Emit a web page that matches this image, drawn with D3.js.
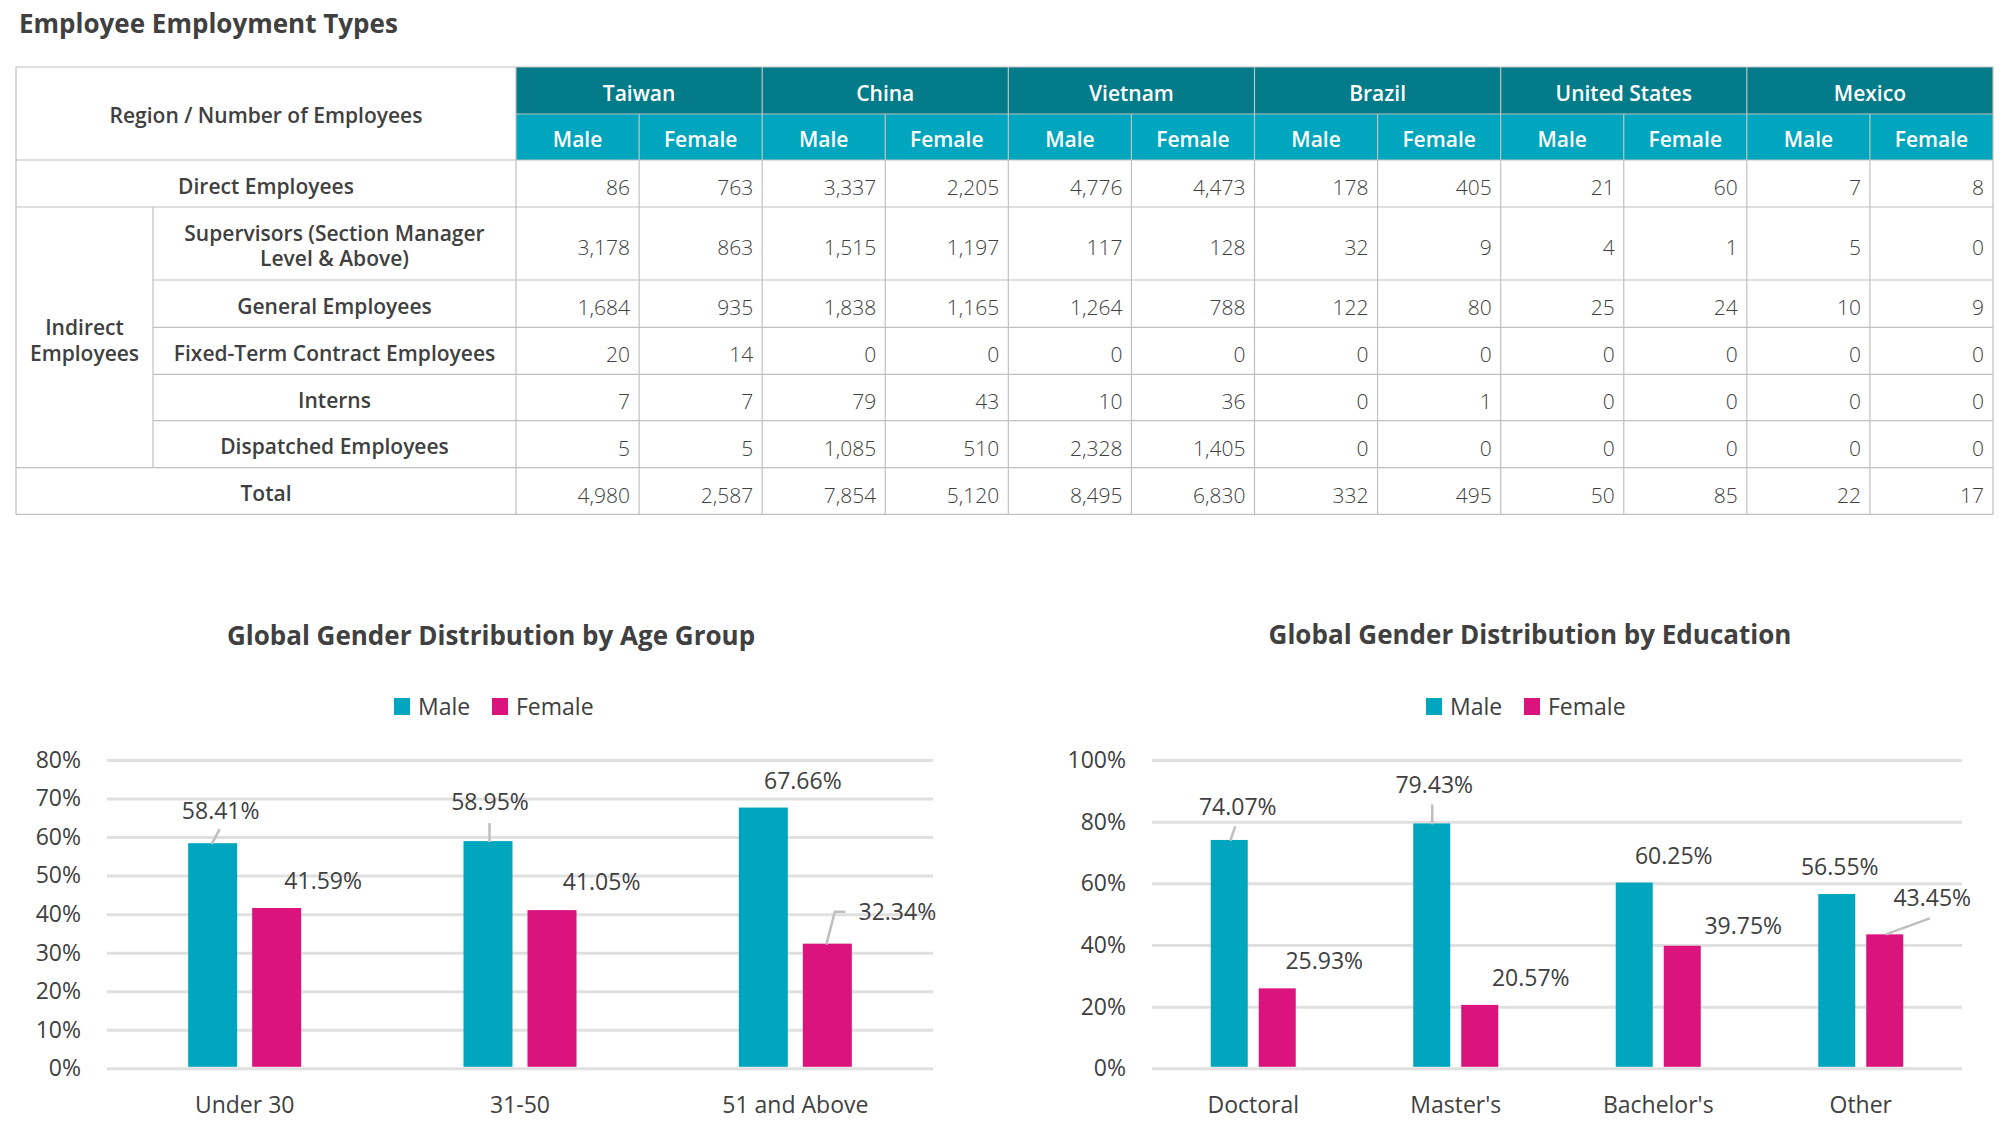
<!DOCTYPE html>
<html>
<head>
<meta charset="utf-8">
<script src="https://cdn.jsdelivr.net/npm/d3@7"></script>
<style>
  body { margin: 0; background: #fff; }
  text { font-family: "Open Sans", "Noto Sans", sans-serif; fill: #404040; }
</style>
</head>
<body>
<script>
// ---- table data ----
const regions = ['Taiwan', 'China', 'Vietnam', 'Brazil', 'United States', 'Mexico'];
const genders = ['Male', 'Female'];
const rowLabels = ['Direct Employees', 'Supervisors (Section Manager|Level & Above)', 'General Employees',
  'Fixed-Term Contract Employees', 'Interns', 'Dispatched Employees', 'Total'];
const directEmployees = [86, 763, 3337, 2205, 4776, 4473, 178, 405, 21, 60, 7, 8];
const supervisors = [3178, 863, 1515, 1197, 117, 128, 32, 9, 4, 1, 5, 0];
const generalEmployees = [1684, 935, 1838, 1165, 1264, 788, 122, 80, 25, 24, 10, 9];
const fixedTermEmployees = [20, 14, 0, 0, 0, 0, 0, 0, 0, 0, 0, 0];
const interns = [7, 7, 79, 43, 10, 36, 0, 1, 0, 0, 0, 0];
const dispatchedEmployees = [5, 5, 1085, 510, 2328, 1405, 0, 0, 0, 0, 0, 0];
const totalEmployees = [4980, 2587, 7854, 5120, 8495, 6830, 332, 495, 50, 85, 22, 17];
const tableRows = [directEmployees, supervisors, generalEmployees, fixedTermEmployees,
  interns, dispatchedEmployees, totalEmployees];

// ---- chart data ----
const ageGroups = ['Under 30', '31-50', '51 and Above'];
const ageMale = [58.41, 58.95, 67.66];
const ageFemale = [41.59, 41.05, 32.34];
const ageTicks = [0, 10, 20, 30, 40, 50, 60, 70, 80];

const eduGroups = ['Doctoral', "Master's", "Bachelor's", 'Other'];
const eduMale = [74.07, 79.43, 60.25, 56.55];
const eduFemale = [25.93, 20.57, 39.75, 43.45];
const eduTicks = [0, 20, 40, 60, 80, 100];

const colors = { Male: '#00a6bd', Female: '#da137d' };

const W = 2012, H = 1131;
const svg = d3.select('body').append('svg').attr('width', W).attr('height', H);

svg.append('text')
  .attr('x', 19).attr('y', 33)
  .attr('font-size', 26).attr('font-weight', 700)
  .text('Employee Employment Types');

// ---------- table ----------
const tbl = svg.append('g');
const tableLeft = 16, labelRight = 516, subLeft = 153, tableRight = 1993;
const headTop = 67, headMid = 114, headBottom = 160;
const rowEdges = [160, 207, 280, 327.3, 374.3, 420.7, 467.7, 514.3];
const lineColor = '#c0c0c0';

const xRegion = d3.scaleBand().domain(regions).range([labelRight, tableRight]);
const cols = d3.range(regions.length * genders.length)
  .map(i => ({ i, region: regions[Math.floor(i / 2)], gender: genders[i % 2] }));
const xCol = d3.scaleBand().domain(cols.map(d => d.i)).range([labelRight, tableRight]);

// header fills
tbl.selectAll('rect.h1').data(regions).join('rect')
  .attr('x', d => xRegion(d)).attr('y', headTop)
  .attr('width', xRegion.bandwidth()).attr('height', headMid - headTop)
  .attr('fill', '#037b89');
tbl.selectAll('rect.h2').data(cols).join('rect')
  .attr('x', d => xCol(d.i)).attr('y', headMid)
  .attr('width', xCol.bandwidth()).attr('height', headBottom - headMid)
  .attr('fill', '#00a6bd');

tbl.selectAll('text.h1').data(regions).join('text')
  .attr('x', d => xRegion(d) + xRegion.bandwidth() / 2)
  .attr('y', (headTop + headMid) / 2 + 10)
  .attr('text-anchor', 'middle').attr('font-size', 21).attr('font-weight', 600)
  .style('fill', '#fff')
  .text(d => d);
tbl.selectAll('text.h2').data(cols).join('text')
  .attr('x', d => xCol(d.i) + xCol.bandwidth() / 2)
  .attr('y', (headMid + headBottom) / 2 + 10)
  .attr('text-anchor', 'middle').attr('font-size', 21).attr('font-weight', 600)
  .style('fill', '#fff')
  .text(d => d.gender);

tbl.append('text')
  .attr('x', (tableLeft + labelRight) / 2).attr('y', 123)
  .attr('text-anchor', 'middle').attr('font-size', 21).attr('font-weight', 600)
  .text('Region / Number of Employees');

// row labels
rowLabels.forEach((label, r) => {
  const indirect = r > 0 && r < rowLabels.length - 1;
  const cx = indirect ? (subLeft + labelRight) / 2 : (tableLeft + labelRight) / 2;
  const cy = (rowEdges[r] + rowEdges[r + 1]) / 2;
  const lines = label.split('|');
  const t = tbl.append('text')
    .attr('text-anchor', 'middle').attr('font-size', 21).attr('font-weight', 600);
  lines.forEach((ln, k) => {
    t.append('tspan').attr('x', cx)
      .attr('y', cy + 10 - (lines.length - 1) * 12.5 + k * 25)
      .text(ln);
  });
});

const indirectCy = (rowEdges[1] + rowEdges[rowEdges.length - 2]) / 2;
const ind = tbl.append('text')
  .attr('text-anchor', 'middle').attr('font-size', 21).attr('font-weight', 600);
['Indirect', 'Employees'].forEach((ln, k) => {
  ind.append('tspan').attr('x', (tableLeft + subLeft) / 2)
    .attr('y', indirectCy - 2 + k * 25.5).text(ln);
});

// numbers
const fmt = d3.format(',');
tableRows.forEach((vals, r) => {
  const cy = (rowEdges[r] + rowEdges[r + 1]) / 2;
  tbl.selectAll(null).data(vals).join('text')
    .attr('x', (d, i) => xCol(i) + xCol.bandwidth() - 9)
    .attr('y', cy + 11.5)
    .attr('text-anchor', 'end').attr('font-size', 21).attr('font-weight', 300)
    .text(d => fmt(d));
});

// grid lines
const hLines = [
  [tableLeft, tableRight, headTop],
  [labelRight, tableRight, headMid],
  [tableLeft, tableRight, headBottom],
  [tableLeft, tableRight, rowEdges[1]],
  ...rowEdges.slice(2, -2).map(y => [subLeft, tableRight, y]),
  [tableLeft, tableRight, rowEdges[rowEdges.length - 2]],
  [tableLeft, tableRight, rowEdges[rowEdges.length - 1]]
];
tbl.selectAll('line.h').data(hLines).join('line')
  .attr('x1', d => d[0]).attr('x2', d => d[1])
  .attr('y1', d => d[2]).attr('y2', d => d[2])
  .attr('stroke', lineColor).attr('stroke-width', 1.2);

const vLines = [
  [tableLeft, headTop, rowEdges[rowEdges.length - 1]],
  [subLeft, rowEdges[1], rowEdges[rowEdges.length - 2]],
  ...cols.map(d => [xCol(d.i), d.i % 2 === 0 ? headTop : headMid, rowEdges[rowEdges.length - 1]]),
  [tableRight, headTop, rowEdges[rowEdges.length - 1]]
];
tbl.selectAll('line.v').data(vLines).join('line')
  .attr('x1', d => d[0]).attr('x2', d => d[0])
  .attr('y1', d => d[1]).attr('y2', d => d[2])
  .attr('stroke', lineColor).attr('stroke-width', 1.2);

// ---------- bar charts ----------
function drawChart(c) {
  const g = svg.append('g');
  const x0 = d3.scaleBand().domain(c.groups).range([c.left, c.right]);
  const half = c.barW + c.gap / 2;
  const x1 = d3.scaleBand().domain(genders)
    .range([x0.bandwidth() / 2 - half, x0.bandwidth() / 2 + half])
    .paddingInner(c.gap / (c.barW + c.gap));
  const y = d3.scaleLinear().domain([0, c.max]).range([c.bottom, c.top]);

  const ya = g.append('g')
    .attr('transform', `translate(${c.left},0)`)
    .call(d3.axisLeft(y).tickValues(c.ticks).tickFormat(d => d + '%')
      .tickSize(-(c.right - c.left)).tickPadding(26));
  ya.attr('font-family', null).attr('font-size', 23);
  ya.select('.domain').remove();
  ya.selectAll('.tick line').attr('stroke', '#e0e0e0').attr('stroke-width', 3);

  const xa = g.append('g')
    .attr('transform', `translate(0,${c.bottom})`)
    .call(d3.axisBottom(x0).tickSize(0).tickPadding(28));
  xa.attr('font-family', null).attr('font-size', 23);
  xa.select('.domain').remove();

  const series = { Male: c.male, Female: c.female };
  genders.forEach(gen => {
    const data = c.groups.map((grp, i) => ({ grp, i, v: series[gen][i] }));
    g.selectAll(null).data(data).join('rect')
      .attr('x', d => x0(d.grp) + x1(gen))
      .attr('y', d => y(d.v))
      .attr('width', x1.bandwidth())
      .attr('height', d => y(0) - y(d.v) - 1.5)
      .attr('fill', colors[gen]);

    const cx = d => x0(d.grp) + x1(gen) + x1.bandwidth() / 2;
    g.selectAll(null).data(data).join('text')
      .attr('x', d => cx(d) + c.labelPos[gen][d.i][0])
      .attr('y', d => y(d.v) + c.labelPos[gen][d.i][1])
      .attr('text-anchor', 'middle').attr('font-size', 23)
      .text(d => d.v.toFixed(2) + '%');

    g.selectAll(null).data(data.filter(d => c.leaders[gen][d.i])).join('path')
      .attr('d', d => d3.line()(c.leaders[gen][d.i].map(p => [cx(d) + p[0], y(d.v) + p[1]])))
      .attr('fill', 'none').attr('stroke', '#bfbfbf').attr('stroke-width', 2.5);
  });

  g.append('text')
    .attr('x', c.titleX).attr('y', c.titleY)
    .attr('text-anchor', 'middle').attr('font-size', 26).attr('font-weight', 700)
    .text(c.title);

  const lg = g.append('g').attr('transform', `translate(${c.legendX},698)`);
  const item = lg.selectAll('g').data(genders).join('g')
    .attr('transform', (d, i) => `translate(${i * 98},0)`);
  item.append('rect').attr('width', 16).attr('height', 17).attr('fill', d => colors[d]);
  item.append('text').attr('x', 24).attr('y', 16.5).attr('font-size', 23).text(d => d);
}

drawChart({
  title: 'Global Gender Distribution by Age Group',
  groups: ageGroups, male: ageMale, female: ageFemale, ticks: ageTicks, max: 80,
  left: 107, right: 933, top: 760, bottom: 1068.3,
  barW: 49, gap: 15, titleX: 491, titleY: 645, legendX: 394,
  labelPos: {
    Male: [[8, -24], [2, -31], [39.5, -19]],
    Female: [[46.5, -19], [49.6, -20], [70, -23.5]]
  },
  leaders: {
    Male: [[[-1, 1], [7, -14]], [[1.5, 1], [1.5, -18]], null],
    Female: [null, null, [[-1, 1], [7.5, -32], [18, -32]]]
  }
});

drawChart({
  title: 'Global Gender Distribution by Education',
  groups: eduGroups, male: eduMale, female: eduFemale, ticks: eduTicks, max: 100,
  left: 1152, right: 1962, top: 760, bottom: 1068.3,
  barW: 37, gap: 11, titleX: 1530, titleY: 644, legendX: 1426,
  labelPos: {
    Male: [[8.5, -24.5], [2.5, -30], [39.5, -19], [3, -19]],
    Female: [[47, -19], [51, -19], [61, -11.7], [47.5, -28.6]]
  },
  leaders: {
    Male: [[[1, 1], [6, -13.5]], [[0.5, 1], [0.5, -19]], null, null],
    Female: [null, null, null, [[1, 0], [45, -16]]]
  }
});
</script>
</body>
</html>
